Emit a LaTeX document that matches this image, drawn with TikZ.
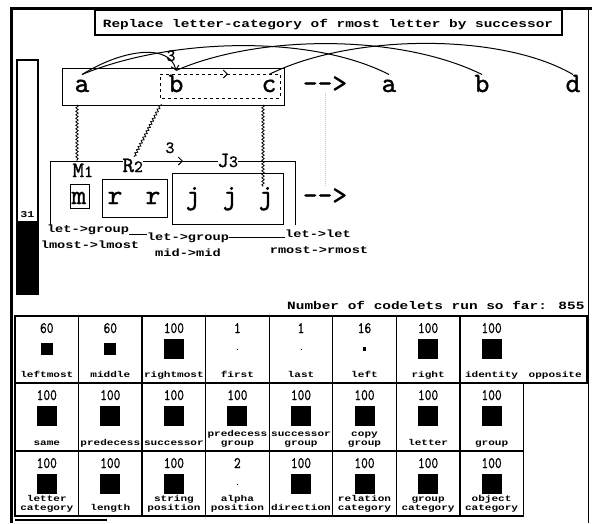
\documentclass[tikz,border=0pt]{standalone}
\usepackage{fontspec}
\usetikzlibrary{arrows.meta,decorations.pathmorphing}
\newfontfamily\widefont[FakeStretch=1.3]{Liberation Mono}
\newfontfamily\typefont[FakeBold=1.2]{lmmono10-regular.otf}
\newfontfamily\numfont[FakeStretch=0.8,FakeBold=0.8]{lmmono10-regular.otf}
\begin{document}
\begin{tikzpicture}[x=1pt,y=-1pt,line width=1pt]
    \tikzstyle{every node}+=[inner sep=0pt]
    \tikzstyle{letter}=[font=\typefont\fontsize{28}{28}\selectfont,anchor=base,text height=17pt]
    \tikzstyle{desc}=[font=\typefont\fontsize{22}{22}\selectfont,anchor=base west]
    \tikzstyle{bondnum}=[font=\typefont\fontsize{17}{17}\selectfont,anchor=base]
    \tikzstyle{maplab}=[font=\widefont\bfseries\fontsize{10.5}{12}\selectfont,anchor=base]
    \tikzstyle{headline}=[font=\widefont\bfseries\fontsize{11.1}{12}\selectfont]
    \tikzstyle{templab}=[font=\widefont\bfseries\fontsize{9}{10}\selectfont,anchor=base]
    \tikzstyle{cellnum}=[font=\numfont\fontsize{16}{16}\selectfont,anchor=base]
    \tikzstyle{cellsq}=[fill=black]
    \tikzstyle{celllab}=[font=\widefont\bfseries\fontsize{8.5}{9}\selectfont,align=center,anchor=south,execute at end node=\strut]
    \tikzstyle{squig}=[line width=0.8pt,decorate,decoration={snake,amplitude=1.2pt,segment length=3.5pt}]
    \tikzstyle{barb}=[-{Straight Barb[length=4pt,width=8pt]}]
    \useasboundingbox (0,0) rectangle (592,523);
    % frame, title and temperature
    \draw [line width=3pt] (11,523) -- (11,8.5) -- (592,8.5);
    \draw (588,8) -- (588,523);
    \draw [line width=1.2pt,fill=white] (95,10) rectangle (562,35);
    \node [headline,anchor=base] (title) at (328,27) {Replace letter-category of rmost letter by successor};
    \draw [line width=1.5pt] (17,60) rectangle (38,294);
    \fill [black] (17,221) rectangle (38,294);
    \node [templab] (temp) at (27.5,217) {31};
    % initial string and target
    \draw (62,68) rectangle (284,105);
    \draw [dashed,barb] (160,98) -- (160,74) -- (228,74);
    \draw [dashed] (227,74) -- (280,74) -- (280,98) -- (160,98);
    \node [letter] (a1) at (82,92) {a};
    \node [letter] (b1) at (176,92) {b};
    \node [letter] (c1) at (269,92) {c};
    \node [letter] (arr1) at (325,92) {-{}->};
    \node [letter] (a2) at (389,92) {a};
    \node [letter] (b2) at (482,92) {b};
    \node [letter] (d2) at (573,92) {d};
    \draw [barb] (a1.north) .. controls (125,48) and (170,44) .. ([yshift=4pt]b1.north);
    \node [bondnum] (bab) at (171,61) {3};
    \draw (a1.north) .. controls (170,38) and (310,34) .. (a2.north);
    \draw ([yshift=4pt]b1.north) .. controls (260,34) and (400,34) .. (b2.north);
    \draw (c1.north) .. controls (350,34) and (500,32) .. (d2.north);
    % modified string
    \draw [barb] (50,225) -- (50,161) -- (183,161);
    \draw (182,161) -- (295,161) -- (295,225);
    \draw (70,184) rectangle (89,208);
    \draw (102,179) rectangle (167,217);
    \draw (172,173) rectangle (283,224);
    \node [desc] (Mlab) at (72,177) {M{\fontsize{17}{17}\selectfont 1}};
    \node [desc,fill=white] (Rlab) at (122,172) {R{\fontsize{17}{17}\selectfont 2}};
    \node [desc,fill=white] (Jlab) at (217,167) {J{\fontsize{17}{17}\selectfont 3}};
    \node [bondnum] (bRJ) at (170,153) {3};
    \node [letter] (m1) at (79,204) {m};
    \node [letter] (r1) at (115,204) {r};
    \node [letter] (r2) at (153,204) {r};
    \node [letter] (j1) at (193,204) {j};
    \node [letter] (j2) at (230,204) {j};
    \node [letter] (j3) at (266,204) {j};
    \node [letter] (arr2) at (325,204) {-{}->};
    \draw [gray!45,densely dotted] (arr1.south) -- (arr2.north);
    % squiggles between the strings
    \coordinate (astem) at (77,105);
    \coordinate (mtop) at (77,161);
    \coordinate (bgrp) at (161,104);
    \coordinate (rtop) at (134,157);
    \coordinate (cstem) at (263,105);
    \draw [squig] (astem) -- (mtop);
    \draw [squig] (bgrp) -- (rtop);
    \draw [squig] (cstem) -- (cstem |- j3.north);
    % concept mappings
    \node [maplab] (lab1a) at (88,232) {let->group};
    \node [maplab] (lab1b) at (90,248) {lmost->lmost};
    \node [maplab] (lab2a) at (188,240) {let->group};
    \node [maplab] (lab2b) at (188,256) {mid->mid};
    \node [maplab] (lab3a) at (318,237) {let->let};
    \node [maplab] (lab3b) at (319,253) {rmost->rmost};
    \draw (lab1a.south east) -- (lab1a.south east -| lab2a.west);
    \draw (lab2a.east) -- (lab2a.east -| lab3a.west);
    \node [headline,anchor=base east] (count) at (585,309) {Number of codelets run so far: 855};
    % slipnet table
    \draw [line width=1.3pt] (15,316) rectangle (587,383);
    \draw [line width=1.3pt] (15,383) -- (15,516) -- (523.4,516) -- (523.4,383);
    \draw [line width=1.3pt] (15,451) -- (523.4,451);
    \draw [line width=1.3pt] (78.55,316) -- (78.55,516);
    \draw [line width=1.3pt] (142.1,316) -- (142.1,516);
    \draw [line width=1.3pt] (205.65,316) -- (205.65,516);
    \draw [line width=1.3pt] (269.2,316) -- (269.2,516);
    \draw [line width=1.3pt] (332.75,316) -- (332.75,516);
    \draw [line width=1.3pt] (396.3,316) -- (396.3,516);
    \draw [line width=1.3pt] (459.85,316) -- (459.85,516);
    \draw [line width=2.5pt] (15,520) -- (107,520);
    % row 1
    \node [cellnum] (n11) at (46.8,333) {60};
    \node [cellsq,minimum size=12pt] (q11) at (46.8,349) {};
    \node [celllab] (l11) at (46.8,381) {leftmost};
    \node [cellnum] (n12) at (110.3,333) {60};
    \node [cellsq,minimum size=12pt] (q12) at (110.3,349) {};
    \node [celllab] (l12) at (110.3,381) {middle};
    \node [cellnum] (n13) at (173.9,333) {100};
    \node [cellsq,minimum size=20pt] (q13) at (173.9,349) {};
    \node [celllab] (l13) at (173.9,381) {rightmost};
    \node [cellnum] (n14) at (237.4,333) {1};
    \node [cellsq,minimum size=0.2pt] (q14) at (237.4,349) {};
    \node [celllab] (l14) at (237.4,381) {first};
    \node [cellnum] (n15) at (301,333) {1};
    \node [cellsq,minimum size=0.2pt] (q15) at (301,349) {};
    \node [celllab] (l15) at (301,381) {last};
    \node [cellnum] (n16) at (364.5,333) {16};
    \node [cellsq,minimum size=3.2pt] (q16) at (364.5,349) {};
    \node [celllab] (l16) at (364.5,381) {left};
    \node [cellnum] (n17) at (428.1,333) {100};
    \node [cellsq,minimum size=20pt] (q17) at (428.1,349) {};
    \node [celllab] (l17) at (428.1,381) {right};
    \node [cellnum] (n18) at (491.6,333) {100};
    \node [cellsq,minimum size=20pt] (q18) at (491.6,349) {};
    \node [celllab] (l18) at (491.6,381) {identity};
    \node [celllab] (l19) at (555.2,381) {opposite};
    % row 2
    \node [cellnum] (n21) at (46.8,400) {100};
    \node [cellsq,minimum size=20pt] (q21) at (46.8,416) {};
    \node [celllab] (l21) at (46.8,449) {same};
    \node [cellnum] (n22) at (110.3,400) {100};
    \node [cellsq,minimum size=20pt] (q22) at (110.3,416) {};
    \node [celllab] (l22) at (110.3,449) {predecess};
    \node [cellnum] (n23) at (173.9,400) {100};
    \node [cellsq,minimum size=20pt] (q23) at (173.9,416) {};
    \node [celllab] (l23) at (173.9,449) {successor};
    \node [cellnum] (n24) at (237.4,400) {100};
    \node [cellsq,minimum size=20pt] (q24) at (237.4,416) {};
    \node [celllab] (l24) at (237.4,449) {predecess\\group};
    \node [cellnum] (n25) at (301,400) {100};
    \node [cellsq,minimum size=20pt] (q25) at (301,416) {};
    \node [celllab] (l25) at (301,449) {successor\\group};
    \node [cellnum] (n26) at (364.5,400) {100};
    \node [cellsq,minimum size=20pt] (q26) at (364.5,416) {};
    \node [celllab] (l26) at (364.5,449) {copy\\group};
    \node [cellnum] (n27) at (428.1,400) {100};
    \node [cellsq,minimum size=20pt] (q27) at (428.1,416) {};
    \node [celllab] (l27) at (428.1,449) {letter};
    \node [cellnum] (n28) at (491.6,400) {100};
    \node [cellsq,minimum size=20pt] (q28) at (491.6,416) {};
    \node [celllab] (l28) at (491.6,449) {group};
    % row 3
    \node [cellnum] (n31) at (46.8,468) {100};
    \node [cellsq,minimum size=20pt] (q31) at (46.8,484) {};
    \node [celllab] (l31) at (46.8,514) {letter\\category};
    \node [cellnum] (n32) at (110.3,468) {100};
    \node [cellsq,minimum size=20pt] (q32) at (110.3,484) {};
    \node [celllab] (l32) at (110.3,514) {length};
    \node [cellnum] (n33) at (173.9,468) {100};
    \node [cellsq,minimum size=20pt] (q33) at (173.9,484) {};
    \node [celllab] (l33) at (173.9,514) {string\\position};
    \node [cellnum] (n34) at (237.4,468) {2};
    \node [cellsq,minimum size=0.4pt] (q34) at (237.4,484) {};
    \node [celllab] (l34) at (237.4,514) {alpha\\position};
    \node [cellnum] (n35) at (301,468) {100};
    \node [cellsq,minimum size=20pt] (q35) at (301,484) {};
    \node [celllab] (l35) at (301,514) {direction};
    \node [cellnum] (n36) at (364.5,468) {100};
    \node [cellsq,minimum size=20pt] (q36) at (364.5,484) {};
    \node [celllab] (l36) at (364.5,514) {relation\\category};
    \node [cellnum] (n37) at (428.1,468) {100};
    \node [cellsq,minimum size=20pt] (q37) at (428.1,484) {};
    \node [celllab] (l37) at (428.1,514) {group\\category};
    \node [cellnum] (n38) at (491.6,468) {100};
    \node [cellsq,minimum size=20pt] (q38) at (491.6,484) {};
    \node [celllab] (l38) at (491.6,514) {object\\category};
\end{tikzpicture}
\end{document}
